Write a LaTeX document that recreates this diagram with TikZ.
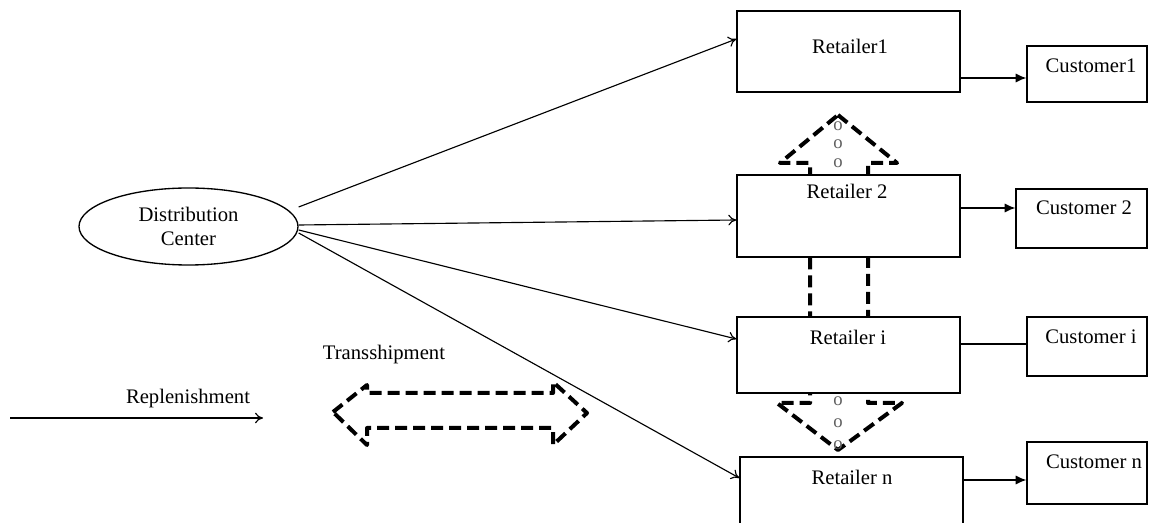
\documentclass[tikz,border=0pt]{standalone}
\usepackage{fontspec}
\setmainfont{Liberation Serif}
\usetikzlibrary{arrows.meta,shapes.geometric}
\begin{document}
\begin{tikzpicture}[x=0.75pt,y=-0.75pt,
  box/.style={draw, line width=1pt, fill=white, rectangle, inner sep=0pt},
  lbl/.style={font=\fontsize{15.5}{17.5}\selectfont, inner sep=0pt},
  flow/.style={line width=0.85pt, -{To[length=6pt,width=8pt]}},
  sale/.style={line width=1.1pt, -{Latex[length=8pt,width=7pt]}},
  blockarrow/.style={line width=3pt, dash pattern=on 9pt off 4.5pt, line join=round},
  dotmark/.style={font=\fontsize{14}{14}\selectfont, text=gray!75!black, inner sep=0pt,
    text height=1ex, text depth=0pt}]
\useasboundingbox (0,0) rectangle (1149,523);
\clip (0,0) rectangle (1149,523);

% vertical transshipment block arrow (behind the retailer boxes)
\draw[blockarrow] (838,115) -- (897,163) -- (868,163) -- (868,403) -- (902,403)
  -- (838,450) -- (777,403) -- (810,403) -- (810,163) -- (780,163) -- cycle;

% retailers
\node[box, minimum width=167.25pt, minimum height=60.75pt] (r1) at (848.5,51.5) {};
\node[box, minimum width=167.25pt, minimum height=61.5pt] (r2) at (848.5,216) {};
\node[box, minimum width=167.25pt, minimum height=57pt] (ri) at (848.5,355) {};
\node[box, minimum width=167.25pt, minimum height=66pt] (rn) at (851.5,501) {};
\node[lbl] (r1t) at (850,46) {Retailer1};
\node[lbl] (r2t) at (847,191) {Retailer 2};
\node[lbl] (rit) at (848,337) {Retailer i};
\node[lbl] (rnt) at (852,477) {Retailer n};

% customers
\node[box, minimum width=90pt, minimum height=42pt] (c1) at (1087,74) {};
\node[box, minimum width=98.25pt, minimum height=44.25pt] (c2) at (1081.5,218.5) {};
\node[box, minimum width=90pt, minimum height=44.25pt] (ci) at (1087,346.5) {};
\node[box, minimum width=90pt, minimum height=46.5pt] (cn) at (1087,473) {};
\node[lbl] (c1t) at (1091,66) {Customer1};
\node[lbl] (c2t) at (1084,208) {Customer 2};
\node[lbl] (cit) at (1091,337) {Customer i};
\node[lbl] (cnt) at (1094,462) {Customer n};

% dots
\node[dotmark] (o1) at (838,127) {o};
\node[dotmark] (o2) at (838,145) {o};
\node[dotmark] (o3) at (838,164) {o};
\node[dotmark] (o4) at (838,402) {o};
\node[dotmark] (o5) at (838,424) {o};
\node[dotmark] (o6) at (838,446) {o};

% distribution center
\node[ellipse, draw, line width=1pt, minimum width=164.25pt, minimum height=57.75pt,
  align=center, lbl] (dc) at (188.5,226.5) {Distribution\\Center};

% replenishment flows
\draw[flow] (dc.east |- 0,207) -- (r1.west |- 0,39);
\draw[flow] (dc.east |- 0,225) -- (r2.west |- 0,220);
\draw[flow] (dc.east |- 0,230) -- (ri.west |- 0,339);
\draw[flow] (dc.east |- 0,233) -- (rn.west |- 0,478);

% retailer to customer
\draw[sale] (r1.east |- 0,78) -- (c1.west |- 0,78);
\draw[sale] (r2.east |- 0,208) -- (c2.west |- 0,208);
\draw[line width=1.1pt] (ri.east |- 0,344) -- (ci.west |- 0,344);
\draw[sale] (rn.east |- 0,480) -- (cn.west |- 0,480);

% legend
\node[lbl] (trans) at (384,355) {Transshipment};
\node[lbl] (repl) at (188,399) {Replenishment};
\coordinate (rs) at (10,418);
\coordinate (re) at (263,418);
\draw[flow] (rs) -- (re);
\draw[blockarrow] (333,412) -- (367,385) -- (367,393) -- (553,393) -- (553,382)
  -- (587,413) -- (553,445) -- (553,428) -- (367,428) -- (367,445) -- cycle;
\end{tikzpicture}
\end{document}
